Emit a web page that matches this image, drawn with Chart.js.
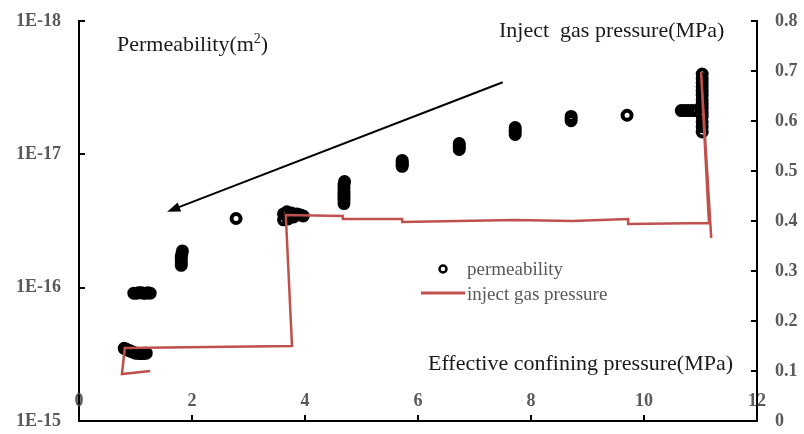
<!DOCTYPE html>
<html>
<head>
<meta charset="utf-8">
<script src="https://cdn.jsdelivr.net/npm/chart.js@4/dist/chart.umd.min.js"></script>
<style>
	body { margin: 0; background: #fff; }
	canvas { display: block; }
</style>
</head>
<body>
<canvas id="chart" width="804" height="434"></canvas>
<script>
// permeability (m2) vs effective confining pressure (MPa)
const PERM_X = [
	0.80, 0.84, 0.88, 0.92, 0.96, 1.00, 1.04, 1.08, 1.12, 1.16, 1.19,
	0.97, 1.02, 1.06, 1.10, 1.14, 1.18, 1.22, 1.26,
	1.81, 1.81, 1.81, 1.81, 1.82, 1.83,
	2.78,
	3.62, 3.62, 3.68, 3.70, 3.76, 3.80, 3.86, 3.92, 3.97,
	4.69, 4.69, 4.69, 4.69, 4.69, 4.69, 4.69, 4.70,
	5.72, 5.72, 5.72, 5.72, 5.72,
	6.73, 6.73, 6.73, 6.73,
	7.72, 7.72, 7.72, 7.72,
	8.71, 8.71, 8.71,
	9.70,
	10.66, 10.72, 10.78, 10.85, 10.92,
	11.03, 11.03, 11.03, 11.03, 11.03, 11.03, 11.03, 11.03, 11.03, 11.03, 11.03, 11.03, 11.03, 11.03,
];
const PERM_Y = [
	2.85e-16, 2.9e-16, 2.95e-16, 3.0e-16, 3.05e-16, 3.1e-16, 3.1e-16, 3.12e-16, 3.12e-16, 3.1e-16, 3.1e-16,
	1.1e-16, 1.1e-16, 1.09e-16, 1.09e-16, 1.1e-16, 1.1e-16, 1.09e-16, 1.1e-16,
	6.8e-17, 6.5e-17, 6.2e-17, 5.9e-17, 5.6e-17, 5.3e-17,
	3.03e-17,
	2.8e-17, 3.1e-17, 2.7e-17, 3.05e-17, 2.75e-17, 2.95e-17, 2.8e-17, 2.85e-17, 2.9e-17,
	2.34e-17, 2.2e-17, 2.1e-17, 2.0e-17, 1.9e-17, 1.8e-17, 1.7e-17, 1.6e-17,
	1.11e-17, 1.14e-17, 1.17e-17, 1.2e-17, 1.23e-17,
	8.3e-18, 8.6e-18, 8.9e-18, 9.2e-18,
	6.3e-18, 6.55e-18, 6.8e-18, 7.1e-18,
	5.2e-18, 5.4e-18, 5.6e-18,
	5.09e-18,
	4.7e-18, 4.7e-18, 4.7e-18, 4.7e-18, 4.7e-18,
	2.5e-18, 2.7e-18, 2.9e-18, 3.1e-18, 3.35e-18, 3.6e-18, 3.9e-18, 4.2e-18, 4.5e-18, 4.85e-18, 5.2e-18, 5.7e-18, 6.2e-18, 6.8e-18,
];

// inject gas pressure (MPa), right axis
const GAS_X = [1.26, 0.76, 0.81, 3.77, 3.66, 4.67, 4.67, 5.72, 5.72, 6.71, 7.72, 8.73, 9.72, 9.72, 11.15, 11.01, 11.19];
const GAS_Y = [0.100, 0.094, 0.146, 0.150, 0.412, 0.410, 0.404, 0.404, 0.398, 0.400, 0.402, 0.400, 0.404, 0.394, 0.396, 0.698, 0.366];

const Y_TICKS = [1e-18, 1e-17, 1e-16, 1e-15];
const Y_TICK_LABELS = ['1E-18', '1E-17', '1E-16', '1E-15'];

// arrow annotation in data units [confining pressure, permeability]
const ARROW_FROM = [7.50, 2.88e-18];
const ARROW_TO = [1.56, 2.69e-17];

const SERIF = "'Liberation Serif', 'Times New Roman', serif";
const TICK_FONT = { family: SERIF, size: 18, weight: 'bold' };
const TICK_COLOR = '#595959';
const RED = '#C0504D';

function toPoints(xs, ys) {
	return xs.map((x, i) => ({ x: x, y: ys[i] }));
}

function drawLine(ctx, x1, y1, x2, y2) {
	ctx.beginPath();
	ctx.moveTo(x1, y1);
	ctx.lineTo(x2, y2);
	ctx.stroke();
}

// fixed box sizes so the plot area lands where the original one is
function fixBox(width, height) {
	return scale => {
		if (width !== null) scale.width = width;
		if (height !== null) scale.height = height;
		scale.paddingTop = 0;
		scale.paddingBottom = 0;
		scale.paddingLeft = 0;
		scale.paddingRight = 0;
	};
}

const overlayPlugin = {
	id: 'overlay',
	afterDraw(chart) {
		const { ctx, chartArea: area, scales } = chart;
		ctx.save();

		// tick marks point into the plot
		ctx.strokeStyle = '#000';
		ctx.lineWidth = 2;
		scales.y.ticks.forEach(t => {
			const py = Math.round(scales.y.getPixelForValue(t.value));
			drawLine(ctx, area.left, py, area.left + 6, py);
		});
		scales.y1.ticks.forEach(t => {
			const py = Math.round(scales.y1.getPixelForValue(t.value));
			drawLine(ctx, area.right - 6, py, area.right, py);
		});
		scales.x.ticks.forEach(t => {
			const px = Math.round(scales.x.getPixelForValue(t.value));
			drawLine(ctx, px, area.bottom - 6, px, area.bottom);
		});

		// x labels sit inside, above the axis
		ctx.font = `bold 18px ${SERIF}`;
		ctx.fillStyle = TICK_COLOR;
		ctx.textAlign = 'center';
		ctx.textBaseline = 'middle';
		scales.x.ticks.forEach(t => {
			ctx.fillText(String(t.value), scales.x.getPixelForValue(t.value), area.bottom - 20);
		});

		// axis titles
		ctx.fillStyle = '#1a1a1a';
		ctx.textAlign = 'left';
		ctx.textBaseline = 'alphabetic';
		ctx.font = `22px ${SERIF}`;
		let tx = 117;
		ctx.fillText('Permeability(m', tx, 51);
		tx += ctx.measureText('Permeability(m').width;
		ctx.font = `14px ${SERIF}`;
		ctx.fillText('2', tx, 43);
		tx += ctx.measureText('2').width;
		ctx.font = `22px ${SERIF}`;
		ctx.fillText(')', tx, 51);
		ctx.fillText('Inject  gas pressure(MPa)', 499, 37);
		ctx.fillText('Effective confining pressure(MPa)', 428, 370);

		// legend
		ctx.strokeStyle = '#000';
		ctx.lineWidth = 2.5;
		ctx.beginPath();
		ctx.arc(443, 269, 3.5, 0, Math.PI * 2);
		ctx.stroke();
		ctx.strokeStyle = RED;
		ctx.lineWidth = 3;
		drawLine(ctx, 421, 293, 465, 293);
		ctx.fillStyle = TICK_COLOR;
		ctx.font = `19px ${SERIF}`;
		ctx.fillText('permeability', 467, 275);
		ctx.fillText('inject gas pressure', 467, 300);

		// arrow
		const ax1 = scales.x.getPixelForValue(ARROW_FROM[0]);
		const ay1 = scales.y.getPixelForValue(ARROW_FROM[1]);
		const ax2 = scales.x.getPixelForValue(ARROW_TO[0]);
		const ay2 = scales.y.getPixelForValue(ARROW_TO[1]);
		const ang = Math.atan2(ay2 - ay1, ax2 - ax1);
		const head = 14;
		ctx.strokeStyle = '#000';
		ctx.fillStyle = '#000';
		ctx.lineWidth = 2;
		drawLine(ctx, ax1, ay1, ax2 - Math.cos(ang) * head * 0.8, ay2 - Math.sin(ang) * head * 0.8);
		ctx.beginPath();
		ctx.moveTo(ax2, ay2);
		ctx.lineTo(ax2 - head * Math.cos(ang - 0.35), ay2 - head * Math.sin(ang - 0.35));
		ctx.lineTo(ax2 - head * Math.cos(ang + 0.35), ay2 - head * Math.sin(ang + 0.35));
		ctx.closePath();
		ctx.fill();

		ctx.restore();
	},
};

const ctx = document.getElementById('chart').getContext('2d');

new Chart(ctx, {
	type: 'scatter',
	data: {
		datasets: [
			{
				label: 'inject gas pressure',
				data: toPoints(GAS_X, GAS_Y),
				yAxisID: 'y1',
				showLine: true,
				borderColor: RED,
				borderWidth: 2.5,
				pointRadius: 0,
				order: 0,
			},
			{
				label: 'permeability',
				data: toPoints(PERM_X, PERM_Y),
				yAxisID: 'y',
				pointStyle: 'circle',
				pointRadius: 4.5,
				borderWidth: 4,
				borderColor: '#000',
				backgroundColor: 'rgba(0, 0, 0, 0)',
				order: 1,
			},
		],
	},
	options: {
		responsive: false,
		animation: false,
		layout: { padding: { top: 21, left: 0, right: 0, bottom: 0 } },
		scales: {
			x: {
				type: 'linear',
				min: 0,
				max: 12,
				ticks: { display: false, stepSize: 2 },
				grid: { display: false, drawTicks: false },
				border: { display: true, color: '#000', width: 2 },
				afterFit: fixBox(null, 13),
			},
			y: {
				type: 'logarithmic',
				position: 'left',
				reverse: true,
				min: 1e-18,
				max: 1e-15,
				afterBuildTicks: scale => {
					scale.ticks = Y_TICKS.map(v => ({ value: v }));
				},
				ticks: {
					font: TICK_FONT,
					color: TICK_COLOR,
					padding: 18,
					callback: value => Y_TICK_LABELS[Y_TICKS.findIndex(v => Math.abs(Math.log10(v / value)) < 0.01)],
				},
				grid: { display: false, drawTicks: false },
				border: { display: true, color: '#000', width: 2 },
				afterFit: fixBox(79, null),
			},
			y1: {
				type: 'linear',
				position: 'right',
				min: 0,
				max: 0.8,
				ticks: {
					stepSize: 0.1,
					font: TICK_FONT,
					color: TICK_COLOR,
					padding: 18,
					callback: value => (value === 0 ? '0' : value.toFixed(1)),
				},
				grid: { display: false, drawTicks: false },
				border: { display: true, color: '#000', width: 2 },
				afterFit: fixBox(47, null),
			},
		},
		plugins: {
			legend: { display: false },
			tooltip: { enabled: false },
			title: { display: false },
		},
	},
	plugins: [overlayPlugin],
});
</script>
</body>
</html>
